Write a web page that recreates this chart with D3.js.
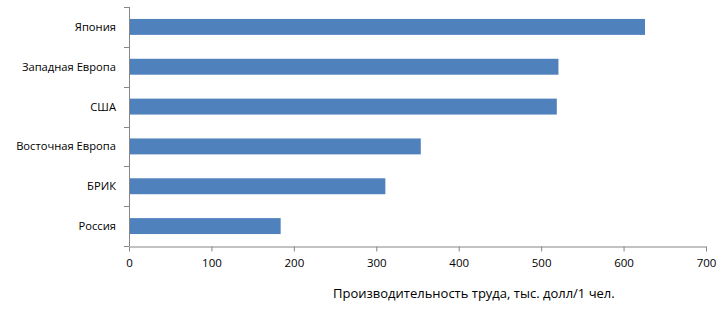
<!DOCTYPE html>
<html>
<head>
<meta charset="utf-8">
<script src="https://cdn.jsdelivr.net/npm/d3@7"></script>
<style>
  body { margin: 0; background: #fff; }
  svg text { font-family: "Open Sans", "Liberation Sans", sans-serif; fill: #000; }
</style>
</head>
<body>
<script>
// chart data, top to bottom
var regions = ["Япония", "Западная Европа", "США", "Восточная Европа", "БРИК", "Россия"];
var productivity = [626, 521, 519, 354, 311, 184];
var xTicks = [0, 100, 200, 300, 400, 500, 600, 700];
var xTitle = "Производительность труда, тыс. долл/1 чел.";

var width = 728, height = 313;
var padL = 129, padR = 706, padT = 7, padB = 246;
var axisColor = "#868686";

var svg = d3.select("body").append("svg")
  .attr("width", width).attr("height", height);

var x = d3.scaleLinear().domain([0, 700]).range([padL, padR]);
var y = d3.scaleBand().domain(regions).range([padT, padB]).paddingInner(0.6).paddingOuter(0.3);
var yb = d3.scaleBand().domain(regions).range([padT, padB]); // for tick marks between bands

// bars
svg.selectAll("rect.bar").data(regions).enter()
  .append("rect").attr("class", "bar")
  .attr("x", x(0))
  .attr("y", d => y(d))
  .attr("width", (d, i) => x(productivity[i]) - x(0))
  .attr("height", y.bandwidth())
  .attr("fill", "#4F81BD");

// y axis line + ticks at band edges
var yBounds = regions.map(d => yb(d)).concat([padB]);
svg.append("line").attr("x1", padL + 0.5).attr("x2", padL + 0.5)
  .attr("y1", padT).attr("y2", padB).attr("stroke", axisColor);
svg.selectAll("line.ytick").data(yBounds).enter()
  .append("line").attr("class", "ytick")
  .attr("x1", padL - 5).attr("x2", padL)
  .attr("y1", d => Math.round(d) + 0.5).attr("y2", d => Math.round(d) + 0.5)
  .attr("stroke", axisColor);
svg.selectAll("text.ylab").data(regions).enter()
  .append("text").attr("class", "ylab")
  .attr("x", 116)
  .attr("y", d => yb(d) + yb.bandwidth() / 2)
  .attr("dy", "0.35em")
  .attr("text-anchor", "end")
  .attr("font-size", "11.2px")
  .text(d => d);

// x axis
var xAxis = svg.append("g")
  .attr("transform", "translate(0," + (padB + 0.5) + ")")
  .call(d3.axisBottom(x).tickValues(xTicks).tickSize(5).tickSizeOuter(0).tickPadding(7));
xAxis.select(".domain").attr("stroke", axisColor);
xAxis.selectAll(".tick line").attr("stroke", axisColor);
xAxis.selectAll(".tick text").attr("font-size", "11.5px").attr("font-family", "Open Sans, Liberation Sans, sans-serif");

svg.append("text")
  .attr("x", 333).attr("y", 293).attr("dy", "0.35em")
  .attr("font-size", "13px")
  .text(xTitle);
</script>
</body>
</html>
